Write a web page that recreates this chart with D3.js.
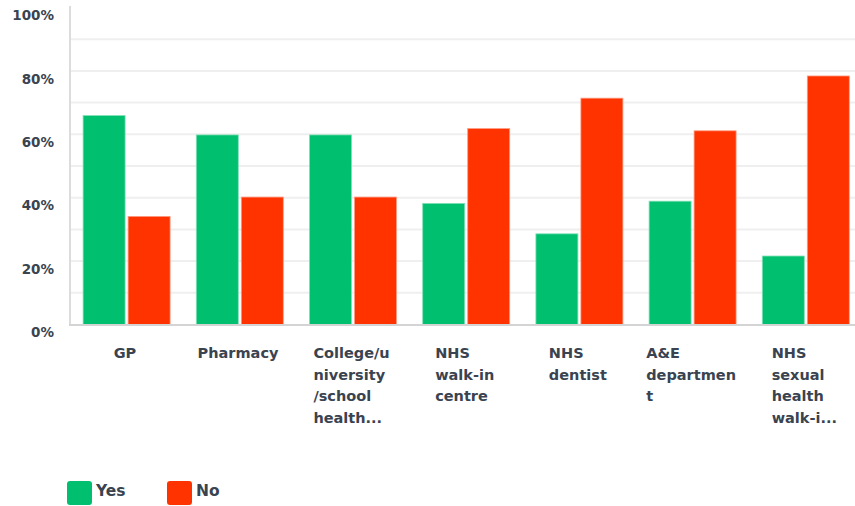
<!DOCTYPE html>
<html><head><meta charset="utf-8">
<script src="https://cdn.jsdelivr.net/npm/d3@7"></script>
<style>body{margin:0;background:#fff}svg{display:block}</style>
</head><body>
<svg id="c" width="855" height="506"></svg>
<script>
const categories = ["GP","Pharmacy","College/university/school health...","NHS walk-in centre","NHS dentist","A&E department","NHS sexual health walk-i..."];
const categoryLines = [["GP"],["Pharmacy"],["College/u","niversity","/school","health..."],["NHS","walk-in","centre"],["NHS","dentist"],["A&E","departmen","t"],["NHS","sexual","health","walk-i..."]];
const yesValues = [65.9, 59.8, 59.8, 38.2, 28.6, 38.9, 21.6];
const noValues  = [34.1, 40.2, 40.2, 61.8, 71.4, 61.1, 78.4];
const seriesNames = ["Yes","No"];
const yTicks = [0,20,40,60,80,100];
const colors = {Yes:"#00BF6F", No:"#FF3300"};

(function(){
const svg = d3.select("#c");
const mLeft = 70, mRight = 862.4, mTop = 7.5, mBottom = 324.5;
const x = d3.scaleBand().domain(categories).range([mLeft,mRight]).paddingInner(0).paddingOuter(0);
const y = d3.scaleLinear().domain([0,100]).range([mBottom,mTop]);
const barW = 42, gap = 3;
const textColor = "#3a4350";
const font = "'DejaVu Sans', sans-serif";

const grid = d3.range(10,100,10);
svg.append("g").selectAll("line").data(grid).join("line")
  .attr("x1",mLeft).attr("x2",855).attr("y1",d=>y(d)).attr("y2",d=>y(d))
  .attr("stroke","#efefef").attr("stroke-width",2);

svg.append("line").attr("x1",mLeft).attr("x2",mLeft).attr("y1",6).attr("y2",mBottom)
  .attr("stroke","#dcdcdc").attr("stroke-width",2);

const yAxis = d3.axisLeft(y).tickValues(yTicks).tickFormat(d=>d+"%").tickSize(0).tickPadding(0);
const ya = svg.append("g").attr("transform",`translate(54,7.5)`).call(yAxis);
ya.select(".domain").remove();
ya.selectAll("text").attr("font-family",font).attr("font-weight",700).attr("font-size",13.5)
  .attr("fill",textColor).attr("dy","0.35em");

const groups = svg.append("g").selectAll("g").data(categories).join("g")
  .attr("transform",d=>`translate(${x(d)+x.bandwidth()/2},0)`);
groups.append("rect").attr("x",-barW-gap/2).attr("width",barW)
  .attr("y",(d,i)=>y(yesValues[i])).attr("height",(d,i)=>mBottom-y(yesValues[i]))
  .attr("fill",colors.Yes).attr("stroke","#7fe0b5").attr("stroke-width",0.8);
groups.append("rect").attr("x",gap/2).attr("width",barW)
  .attr("y",(d,i)=>y(noValues[i])).attr("height",(d,i)=>mBottom-y(noValues[i]))
  .attr("fill",colors.No).attr("stroke","#ff9a80").attr("stroke-width",0.8);

svg.append("line").attr("x1",mLeft-1).attr("x2",855).attr("y1",mBottom+0.5).attr("y2",mBottom+0.5)
  .attr("stroke","#d4d4d4").attr("stroke-width",2);

groups.each(function(d,i){
  const g = d3.select(this);
  const t = g.append("text").attr("font-family",font).attr("font-weight",700)
    .attr("font-size",14.5).attr("fill",textColor);
  categoryLines[i].forEach((ln,j)=>{
    t.append("tspan").attr("x",0).attr("y",358+j*21.7).text(ln);
  });
  const bb = t.node().getBBox();
  t.attr("transform",`translate(${-bb.width/2 - bb.x - 1.5},0)`);
});

const lg = svg.append("g");
seriesNames.forEach((s,i)=>{
  const gx = 67 + i*100;
  lg.append("rect").attr("x",gx).attr("y",481).attr("width",25).attr("height",24).attr("rx",3)
    .attr("fill",colors[s]);
  lg.append("text").attr("x",gx+29).attr("y",491).attr("dy","0.35em")
    .attr("font-family",font).attr("font-weight",700).attr("font-size",15.5)
    .attr("fill",textColor).text(s);
});
})();
</script>
</body></html>
